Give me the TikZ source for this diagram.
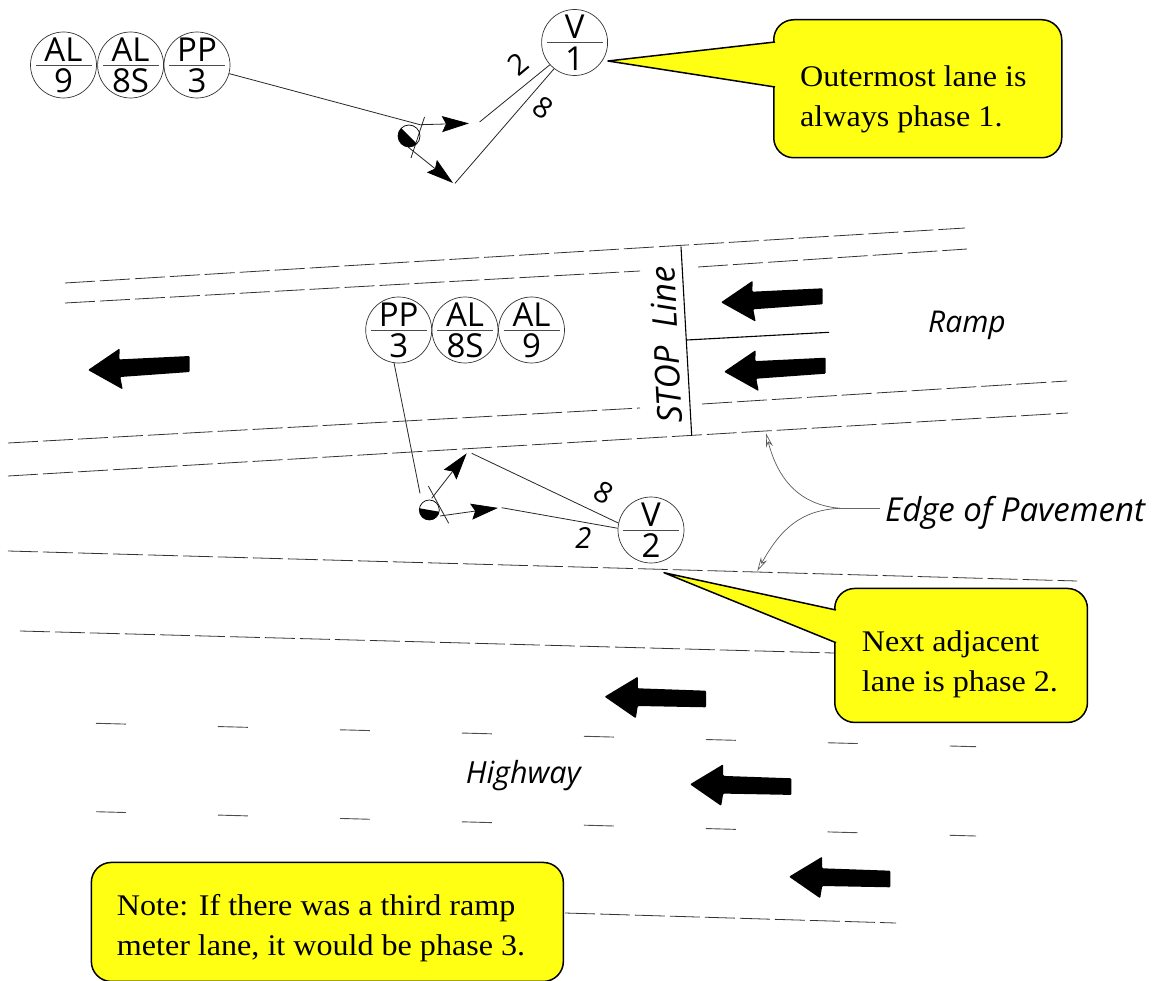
\documentclass[tikz,border=0pt]{standalone}
\usepackage{fontspec}
\setmainfont[FakeStretch=1.07]{Liberation Serif}
\newfontfamily\cadfont{Open Sans}
\usetikzlibrary{arrows.meta,calc}
\definecolor{noteyellow}{HTML}{FFFF14}
\newcommand{\phasesign}[4]{%
  \node[phasecircle] (#1) at #2 {};
  \node[cadlabel] (#1t) at ($(#1)+(0,-15.5)$) {#3};
  \node[cadlabel] (#1b) at ($(#1)+(0,16)$) {#4};
  \draw[rulegray] ($(#1)+(-28,0)$) -- ($(#1)+(28,0)$);
}
\newcommand{\bigarrow}[3]{%
  \fill[shift={(#2,#3)},rounded corners=1pt] #1;
}
\tikzset{
  phasecircle/.style={circle,draw=black!80,line width=.7pt,minimum size=66pt,inner sep=0pt},
  cadlabel/.style={font=\cadfont\fontsize{33}{33}\selectfont,inner sep=0pt},
  rulegray/.style={draw=black!70,line width=.7pt},
  wire/.style={draw=black!85,line width=.8pt},
  pavement/.style={draw=black!80,line width=.8pt,dash pattern=on 30pt off 5pt},
  lanedash/.style={draw=black!70,line width=.9pt,dash pattern=on 30pt off 92pt},
  notebox/.style={draw=black,line width=1.5pt,fill=noteyellow,rounded corners=20pt,inner sep=0pt,anchor=north west},
  notetext/.style={font=\fontsize{30}{40}\selectfont,align=left,inner sep=0pt,anchor=base west},
  headline/.style={wire,-{Stealth[length=27pt,width=16pt,inset=4pt,color=black]}},
  italiclabel/.style={font=\cadfont\itshape\fontsize{34}{34}\selectfont,inner sep=0pt},
  numlabel/.style={font=\cadfont\fontsize{29}{29}\selectfont,inner sep=0pt},
  edgearrow/.style={draw=black!65,line width=.7pt,-{Stealth[open,length=14pt,width=7pt]}},
  x=1pt,y=-1pt
}
\newcommand{\ramparrow}{(0,0) -- (31.7,-21.6) -- (31.3,-10.6) -- (101.7,-14) -- (101.7,2) -- (32.3,7) -- (34.7,19.4) -- cycle}
\newcommand{\hwyarrow}{(0,0) -- (33.2,-20) -- (33.2,-8.4) -- (101.4,-6) -- (101.4,10.6) -- (33.2,9.3) -- (31.2,21.6) -- cycle}
\begin{document}
\begin{tikzpicture}
\useasboundingbox (0,0) rectangle (1156,981);
% pavement lines
\draw[pavement] (65,283) -- (965,228);
\draw[pavement] (65,303) -- (640,271);
\draw[pavement] (698,267) -- (967,249);
\draw[pavement] (8,443) -- (640,408);
\draw[pavement] (702,404) -- (1067,381);
\draw[pavement] (8,476) -- (1068,413);
\draw[pavement] (8,551) -- (1077,581);
\draw[pavement] (20,631) -- (834,653);
\draw[pavement] (565,913) -- (896,923);
\draw[lanedash] (96,723.3) -- (976,746.7);
\draw[lanedash] (96,811.7) -- (976,836);
% large arrows
\bigarrow{\ramparrow}{721}{302.3}
\bigarrow{\ramparrow}{724}{371.7}
\bigarrow{\ramparrow}{88}{370}
\bigarrow{\hwyarrow}{604.6}{696.7}
\bigarrow{\hwyarrow}{690}{784.3}
\bigarrow{\hwyarrow}{789}{876.7}
% top signal
\phasesign{topa}{(63.5,65)}{AL}{9}
\phasesign{topb}{(130.6,65)}{AL}{8S}
\phasesign{topc}{(197,65)}{PP}{3}
\phasesign{topv}{(574.6,42.5)}{V}{1}
\coordinate (tophead) at (409,136);
\coordinate (topbarA) at (424.5,117);
\coordinate (topbarB) at (411,158);
\coordinate (topjoin) at (420,124.7);
\coordinate (toptipA) at (469,123.4);
\coordinate (topwireA) at (479.6,122);
\coordinate (toptipB) at (453,183);
\coordinate (toplow) at (408,147);
\coordinate (topwireB) at (455,183.3);
\draw[wire] (topc.-15) -- (topjoin);
\draw[wire] (topbarA) -- (topbarB);
\draw[headline] (topjoin) -- (toptipA);
\draw[headline] (toplow) -- (toptipB);
\draw[wire] (topwireA) -- (topv.222);
\draw[wire] (topwireB) -- (topv.232);
\node[circle,draw=black,line width=.7pt,minimum size=22pt,inner sep=0pt] (topsig) at (tophead) {};
\begin{scope}[shift={(tophead)},x=1pt,y=1pt]
\fill (135:11) arc (135:315:11) -- cycle;
\end{scope}
\node[numlabel,rotate=40] (top2) at (518,64) {2};
\node[numlabel,rotate=-35] (top8) at (543,108) {8};
% main signal
\phasesign{mainc}{(398.7,330)}{PP}{3}
\phasesign{mainb}{(465,330)}{AL}{8S}
\phasesign{maina}{(531.5,330)}{AL}{9}
\phasesign{mainv}{(651,530)}{V}{2}
\coordinate (mainhead) at (429.3,510);
\coordinate (mainbarA) at (428.3,486);
\coordinate (mainbarB) at (448.7,523.3);
\coordinate (mainjoin) at (420,493.3);
\coordinate (mainup) at (431.7,498.3);
\coordinate (maintipA) at (466.7,453.3);
\coordinate (mainwireA) at (471.7,453.3);
\coordinate (mainright) at (440,516);
\coordinate (maintipB) at (498,507.9);
\coordinate (mainwireB) at (501.7,507.7);
\draw[wire] (mainc.-98) -- (mainjoin);
\draw[wire] (mainbarA) -- (mainbarB);
\draw[headline] (mainup) -- (maintipA);
\draw[headline] (mainright) -- (maintipB);
\draw[wire] (mainwireA) -- (mainv.168);
\draw[wire] (mainwireB) -- (mainv.177);
\node[circle,draw=black,line width=.7pt,minimum size=20pt,inner sep=0pt] (mainsig) at (mainhead) {};
\begin{scope}[shift={(mainhead)},x=1pt,y=1pt]
\fill (170:10) arc (170:350:10) -- cycle;
\end{scope}
\node[numlabel,rotate=-30] (main8) at (604,492.3) {8};
\node[numlabel,font=\cadfont\itshape\fontsize{29}{29}\selectfont] (main2) at (583.3,537.7) {2};
% stop line
\coordinate (stopA) at (681,246.7);
\coordinate (stopB) at (691.7,435.7);
\coordinate (stopM) at (686.7,340);
\coordinate (stopR) at (829,332.3);
\draw[draw=black,line width=1.1pt] (stopA) -- (stopB);
\draw[draw=black,line width=1.1pt] (stopM) -- (stopR);
\node[italiclabel,rotate=93] (stoplabel) at (666,345) {STOP\ \ Line};
\node[italiclabel,anchor=base west,font=\cadfont\itshape\fontsize{30}{30}\selectfont] (ramp) at (928,333) {Ramp};
\node[italiclabel,anchor=base west,font=\cadfont\itshape\fontsize{30.5}{30.5}\selectfont] (highway) at (465.6,783) {Highway};
% edge of pavement
\node[italiclabel,anchor=base west,font=\cadfont\itshape\fontsize{33}{33}\selectfont] (edge) at (885,521.7) {Edge of Pavement};
\coordinate (edgefork) at (840,508.3);
\coordinate (edgeup) at (766,433.3);
\coordinate (edgedown) at (757.3,571);
\draw[draw=black!60,line width=.7pt] (edge.base west |- edgefork) ++(-5,0) -- (edgefork);
\draw[edgearrow] (edgefork) .. controls (800,505) and (778,480) .. (edgeup);
\draw[edgearrow] (edgefork) .. controls (800,510) and (780,530) .. (edgedown);
% callouts
\node[notebox,minimum width=288pt,minimum height=138pt] (noteA) at (773,19) {};
\coordinate (tipA) at (608,61);
\coordinate (baseA1) at (775,42);
\coordinate (baseA2) at (775,87);
\fill[noteyellow] (baseA1) -- (tipA) -- (baseA2) -- cycle;
\draw[line width=1.5pt,line join=round] (baseA1) -- (tipA) -- (baseA2);
\node[notetext] (textA1) at (800,87) {Outermost lane is};
\node[notetext] (textA2) at (800,127) {always phase 1.};
\node[notebox,minimum width=252.7pt,minimum height=134pt] (noteB) at (834,587.7) {};
\coordinate (tipB) at (664,572.7);
\coordinate (baseB1) at (836,610);
\coordinate (baseB2) at (836,642.7);
\fill[noteyellow] (baseB1) -- (tipB) -- (baseB2) -- cycle;
\draw[line width=1.5pt,line join=round] (baseB1) -- (tipB) -- (baseB2);
\node[notetext] (textB1) at (861.7,651.7) {Next adjacent};
\node[notetext] (textB2) at (861.7,691.7) {lane is phase 2.};
\node[notebox,minimum width=472pt,minimum height=119pt] (noteC) at (90.6,861.7) {};
\node[notetext] (textC1) at (116.7,915) {Note: If there was a third ramp};
\node[notetext] (textC2) at (116.7,955) {meter lane, it would be phase 3.};
\end{tikzpicture}
\end{document}
